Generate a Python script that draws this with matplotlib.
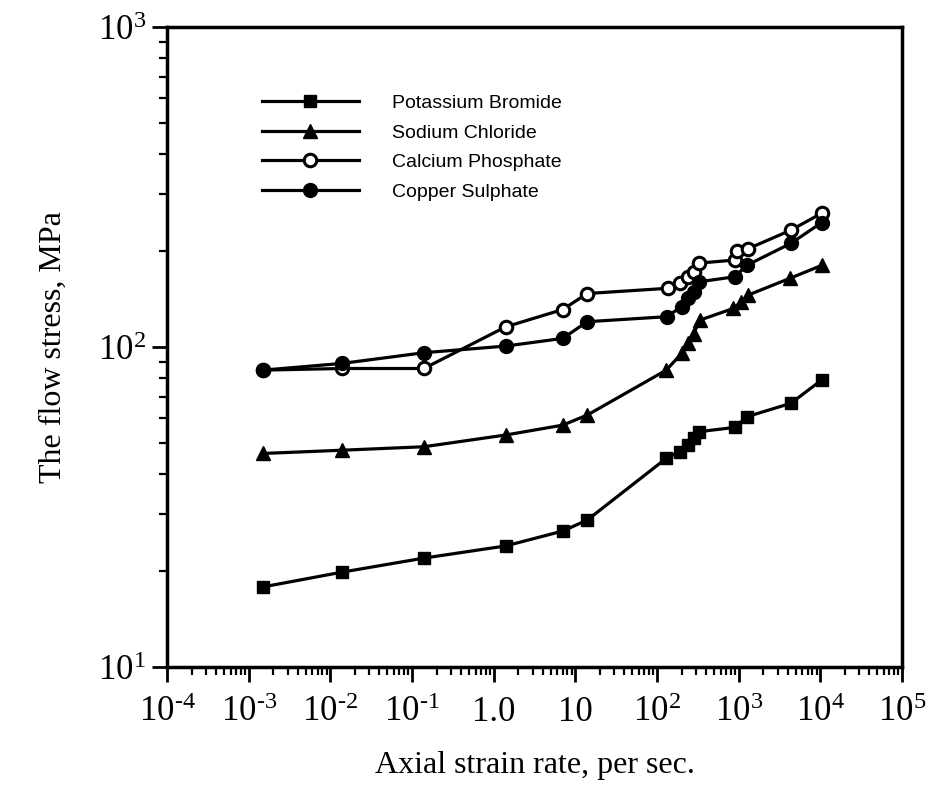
#!/usr/bin/env python3
"""
Flow stress vs axial strain rate for four powders (log-log)
"""

import matplotlib
matplotlib.use('Agg')
import matplotlib.pyplot as plt
from matplotlib.ticker import LogLocator, FixedLocator, NullFormatter

# Data
kbr_rate = [1.5e-3, 1.4e-2, 0.14, 1.4, 7, 14, 130, 190, 240, 280, 330, 900, 1270, 4350, 10400]
kbr_stress = [17.8, 19.8, 21.9, 23.9, 26.6, 28.8, 44.9, 47.1, 49.4, 51.8, 54.4, 56.1, 60.6, 66.7, 78.9]

nacl_rate = [1.5e-3, 1.4e-2, 0.14, 1.4, 7, 14, 130, 200, 240, 280, 335, 860, 1080, 1310, 4250, 10400]
nacl_stress = [46.5, 47.6, 48.8, 53.1, 57.0, 61.3, 84.7, 95.5, 102.6, 110, 121.4, 132, 138.6, 145.4, 164, 180]

cap_rate = [1.5e-3, 1.4e-2, 0.14, 1.4, 7, 14, 135, 190, 240, 280, 330, 900, 950, 1310, 4380, 10400]
cap_stress = [84.7, 85.7, 85.7, 115.6, 131, 147, 152.6, 158.8, 165, 172, 183, 187, 199, 203, 232, 262]

cuso4_rate = [1.5e-3, 1.4e-2, 0.14, 1.4, 7, 14, 131, 200, 240, 280, 330, 900, 1250, 4380, 10400]
cuso4_stress = [84.7, 88.9, 96, 100.7, 106.4, 120, 124.4, 133.6, 142, 149, 160, 165.8, 180, 211, 245]

x_ticks = [1e-4, 1e-3, 1e-2, 1e-1, 1, 10, 1e2, 1e3, 1e4, 1e5]
x_tick_labels = [r'$10^{\text{-}4}$', r'$10^{\text{-}3}$', r'$10^{\text{-}2}$',
                 r'$10^{\text{-}1}$', '1.0', '10',
                 r'$10^{2}$', r'$10^{3}$', r'$10^{4}$', r'$10^{5}$']
y_ticks = [10, 100, 1000]
y_tick_labels = [r'$10^{1}$', r'$10^{2}$', r'$10^{3}$']

plt.rcParams['font.family'] = ['Liberation Serif', 'DejaVu Serif']
plt.rcParams['mathtext.fontset'] = 'custom'
plt.rcParams['mathtext.rm'] = 'Liberation Serif'
plt.rcParams['mathtext.it'] = 'Liberation Serif'
plt.rcParams['mathtext.default'] = 'regular'

fig = plt.figure(figsize=(9.35, 8.10), dpi=100)
ax = fig.add_axes([0.1786, 0.1765, 0.7861, 0.7901])

lw = 2.3
ax.plot(kbr_rate, kbr_stress, color='black', lw=lw, marker='s', ms=9,
        label='Potassium Bromide')
ax.plot(nacl_rate, nacl_stress, color='black', lw=lw, marker='^', ms=10,
        label='Sodium Chloride')
ax.plot(cap_rate, cap_stress, color='black', lw=lw, marker='o', ms=9,
        mfc='white', mew=2.2, label='Calcium Phosphate')
ax.plot(cuso4_rate, cuso4_stress, color='black', lw=lw, marker='o', ms=10,
        label='Copper Sulphate')

ax.set_xscale('log')
ax.set_yscale('log')
ax.set_xlim(1e-4, 1e5)
ax.set_ylim(10, 1000)

ax.xaxis.set_major_locator(FixedLocator(x_ticks))
ax.set_xticklabels(x_tick_labels)
ax.yaxis.set_major_locator(FixedLocator(y_ticks))
ax.set_yticklabels(y_tick_labels)
ax.xaxis.set_minor_locator(LogLocator(base=10, subs=range(2, 10), numticks=20))
ax.yaxis.set_minor_locator(LogLocator(base=10, subs=range(2, 10), numticks=20))
ax.xaxis.set_minor_formatter(NullFormatter())
ax.yaxis.set_minor_formatter(NullFormatter())

ax.tick_params(which='major', direction='out', length=11, width=2,
               labelsize=25, top=False, right=False)
ax.tick_params(axis='x', which='major', pad=10)
ax.tick_params(axis='y', which='major', pad=4)
ax.tick_params(which='minor', direction='out', length=6, width=1.6,
               top=False, right=False)
for spine in ax.spines.values():
    spine.set_linewidth(2.5)

ax.set_xlabel('Axial strain rate, per sec.', fontsize=23, labelpad=16)
ax.set_ylabel('The flow stress, MPa', fontsize=23, labelpad=22)

leg = ax.legend(loc='upper left', bbox_to_anchor=(0.129, 0.895),
                frameon=False, borderaxespad=0, borderpad=0,
                handlelength=5.0, handletextpad=1.7, labelspacing=0.62,
                prop={'family': 'Liberation Sans', 'size': 14})

plt.savefig('out.png', dpi=100)
plt.close()
